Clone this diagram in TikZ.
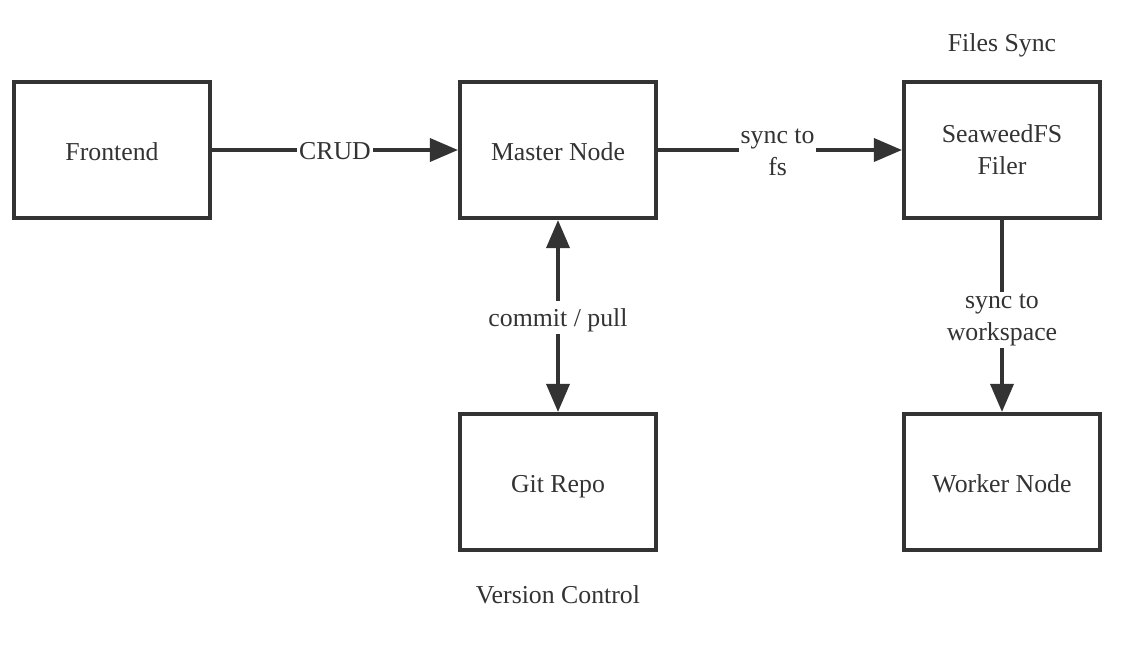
\documentclass[tikz,border=0pt]{standalone}
\usepackage{fontspec}
\setmainfont{Liberation Serif}
\usetikzlibrary{arrows.meta}
\definecolor{ink}{HTML}{333333}
\begin{document}
\begin{tikzpicture}[x=1pt,y=-1pt,
  every node/.style={text=ink,font=\fontsize{25.8}{32}\selectfont},
  tip/.tip={Triangle[length=28pt,width=23pt]},
  box/.style={draw=ink,line width=3.6pt,minimum width=196.5pt,minimum height=136.5pt,inner sep=0pt,align=center},
  onel/.style={text height=25pt,text depth=4pt},
  conn/.style={draw=ink,line width=3.6pt,-tip},
  both/.style={draw=ink,line width=3.6pt,tip-tip},
  lbl/.style={fill=white,inner sep=2pt,align=center},
  lbl1/.style={lbl,text height=24pt,text depth=5pt},
  plain/.style={align=center}]
\useasboundingbox (0,0) rectangle (1143,645);
\node[box,onel] (fe) at (112,150) {Frontend};
\node[box,onel] (mn) at (558,150) {Master Node};
\node[box] (sf) at (1002,150) {SeaweedFS\\Filer};
\node[box,onel] (gr) at (558,482) {Git Repo};
\node[box,onel] (wn) at (1002,482) {Worker Node};
\node[plain] (fs) at (1002,45) {Files Sync};
\node[plain] (vc) at (558,595) {Version Control};
\draw[conn] (fe) -- node[lbl1] (l1) {CRUD} (mn);
\draw[conn] (mn) -- node[lbl,pos=0.49,yshift=-2pt] (l2) {sync to\\fs} (sf);
\draw[both] (mn) -- node[lbl1,yshift=-1pt] (l3) {commit / pull} (gr);
\draw[conn] (sf) -- node[lbl,yshift=-4pt] (l4) {sync to\\workspace} (wn);
\end{tikzpicture}
\end{document}
